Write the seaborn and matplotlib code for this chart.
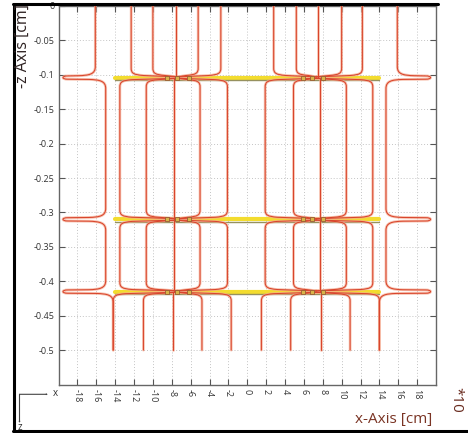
import numpy as np
import matplotlib
matplotlib.use("Agg")
import matplotlib.pyplot as plt
from matplotlib.path import Path
from matplotlib.patches import PathPatch, FancyArrowPatch
from matplotlib.lines import Line2D
import pandas as pd
import seaborn as sns

# ---- data -------------------------------------------------------------
# z position of the three layers [cm*10] and their lateral extent [cm]
layer_z = [-0.104, -0.310, -0.415]
layer_x = [-14.0, 14.0]

# focus of the two cells
cell_centre = [-7.4, 7.3]

# ray x positions (cm) above the first layer, between the layers, below the last
rays_top = [[-12.3, -10.0, -7.6, -5.2, -2.8], [2.8, 5.2, 7.5, 10.0, 12.2]]
rays_mid = [[-13.5, -10.7, -7.8, -5.0, -2.1], [1.9, 4.9, 7.7, 10.5, 13.3]]
rays_low = [[-14.2, -11.0, -7.9, -4.8, -1.7], [1.5, 4.6, 7.8, 10.9, 14.0]]

# stray rays outside the cells: x above / between / below, and turning point
outer_top = [-16.1, 15.9]
outer_mid = [-15.0, 14.7]
outer_low = [-14.2, 14.0]
outer_tip = [-19.7, 19.6]

z_first, z_last = 0.0, -0.5

# crossing nodes on each layer
nodes_x = [-8.55, -7.45, -6.2, 5.9, 6.85, 8.05]

x_ticks = list(range(-18, 19, 2))
y_ticks = [0, -0.05, -0.1, -0.15, -0.2, -0.25, -0.3, -0.35, -0.4, -0.45, -0.5]
y_ticklabels = ["0", "-0.05", "-0.1", "-0.15", "-0.2", "-0.25", "-0.3",
                "-0.35", "-0.4", "-0.45", "-0.5"]

# ---- figure -----------------------------------------------------------
sns.set_style("ticks")
plt.rcParams["font.family"] = ["Open Sans", "DejaVu Sans"]

W, H = 468, 433
fig = plt.figure(figsize=(W / 100, H / 100), dpi=100)
fig.patch.set_facecolor("white")
ax = fig.add_axes([58.5 / W, 1 - 384.5 / H, (436 - 58.5) / W, (384.5 - 6) / H])

RED_CORE = "#d9452c"
RED_HALO = "#f4ab92"


def add_path(verts, codes):
    p = Path(verts, codes)
    ax.add_patch(PathPatch(p, fill=False, ec=RED_HALO, lw=2.0, alpha=0.7,
                           zorder=3, capstyle="round", joinstyle="round"))
    ax.add_patch(PathPatch(p, fill=False, ec=RED_CORE, lw=0.75,
                           zorder=4, capstyle="round", joinstyle="round"))


def leave_plane(x, xc, zb, v, c):
    """ray leaving a layer at its focus and bending down at x"""
    d = np.sign(xc - x)
    v += [(xc, zb - 0.001), (x + d * 1.3, zb - 0.003),
          (x + d * 0.25, zb - 0.0042), (x, zb - 0.006), (x, zb - 0.014)]
    c += [Path.MOVETO, Path.LINETO, Path.CURVE4, Path.CURVE4, Path.CURVE4]


def reach_plane(x, xc, zb, v, c):
    """ray coming down at x and bending into the focus of a layer"""
    d = np.sign(xc - x)
    v += [(x, zb + 0.014), (x, zb + 0.006), (x + d * 0.25, zb + 0.0042),
          (x + d * 1.3, zb + 0.003), (xc, zb + 0.001)]
    c += [Path.LINETO, Path.CURVE4, Path.CURVE4, Path.CURVE4, Path.LINETO]


def ray(x, xc, z_top, z_bot, top_plane, bot_plane):
    v, c = [], []
    straight = abs(x - xc) < 0.9
    if top_plane and not straight:
        leave_plane(x, xc, z_top, v, c)
    else:
        v.append((x, z_top))
        c.append(Path.MOVETO)
    if bot_plane and not straight:
        reach_plane(x, xc, z_bot, v, c)
    else:
        v.append((x, z_bot))
        c.append(Path.LINETO)
    add_path(v, c)


# rays inside the two cells
for k, xc in enumerate(cell_centre):
    for x in rays_top[k]:
        ray(x, xc, z_first, layer_z[0], False, True)
    for x in rays_mid[k]:
        ray(x, xc, layer_z[0], layer_z[1], True, True)
        ray(x, xc, layer_z[1], layer_z[2], True, True)
    for x in rays_low[k]:
        ray(x, xc, layer_z[2], z_last, True, False)


def spike(xu, xd, tip, zb, v, c):
    d = np.sign(tip - xu)
    v += [(xu, zb + 0.016), (xu, zb + 0.005), (xu + d * 0.6, zb + 0.0032),
          (xu + d * 1.8, zb + 0.0027), (tip - d * 0.7, zb + 0.0024),
          (tip, zb + 0.0024), (tip, zb - 0.0024), (tip - d * 0.7, zb - 0.0024),
          (xd + d * 1.8, zb - 0.0027), (xd + d * 0.6, zb - 0.0032),
          (xd, zb - 0.005), (xd, zb - 0.016)]
    c += [Path.LINETO, Path.CURVE4, Path.CURVE4, Path.CURVE4, Path.LINETO,
          Path.CURVE4, Path.CURVE4, Path.CURVE4, Path.LINETO,
          Path.CURVE4, Path.CURVE4, Path.CURVE4]


# stray rays turning back at each layer
for k in range(2):
    v, c = [(outer_top[k], z_first)], [Path.MOVETO]
    spike(outer_top[k], outer_mid[k], outer_tip[k], layer_z[0], v, c)
    spike(outer_mid[k], outer_mid[k], outer_tip[k], layer_z[1], v, c)
    spike(outer_mid[k], outer_low[k], outer_tip[k], layer_z[2], v, c)
    v.append((outer_low[k], z_last))
    c.append(Path.LINETO)
    add_path(v, c)

# layers
layers = pd.DataFrame({
    "x": [layer_x[0], layer_x[1]] * len(layer_z),
    "z": [z for z in layer_z for _ in range(2)],
    "layer": [i for i in range(len(layer_z)) for _ in range(2)],
})
sns.lineplot(data=layers, x="x", y="z", units="layer", estimator=None,
             color="#f3dc2e", lw=3.0, ax=ax, zorder=2, legend=False)
under = layers.assign(z=layers["z"] - 0.0036)
sns.lineplot(data=under, x="x", y="z", units="layer", estimator=None,
             color="#96915f", lw=1.0, ax=ax, zorder=2, legend=False)

nodes = pd.DataFrame({"x": nodes_x * len(layer_z),
                      "z": [z for z in layer_z for _ in nodes_x]})
sns.scatterplot(data=nodes, x="x", y="z", marker="s", s=11, color="#d8b448",
                edgecolor="#9a5e34", linewidth=0.6, ax=ax, zorder=5)

# axes
ax.set_xlim(-20, 20)
ax.set_ylim(-0.55, 0)
ax.set_xticks(x_ticks)
ax.set_xticklabels([str(t) for t in x_ticks], rotation=-90)
ax.set_yticks(y_ticks)
ax.set_yticklabels(y_ticklabels)
ax.set_xlabel("")
ax.set_ylabel("")
ax.grid(True, ls=(0, (1, 2)), color="#c4c4c4", lw=0.7)
ax.set_axisbelow(True)
ax.tick_params(direction="in", top=True, right=True, length=4, width=0.8,
               color="#555555", labelsize=6.5, labelcolor="#333333", pad=3)
for s in ax.spines.values():
    s.set_color("#666666")
    s.set_linewidth(1.0)


def fx(px):
    return px / W


def fy(py):
    return 1 - py / H


fig.text(fx(23), fy(46), "-z Axis [cm]", rotation=90, ha="center",
         va="center", fontsize=11.5, color="#2e2222")
fig.text(fx(394), fy(419), "x-Axis [cm]", ha="center", va="center",
         fontsize=11, color="#7a3424")
fig.text(fx(456), fy(400), "*10", rotation=-90, ha="center", va="center",
         fontsize=11, color="#6a2c20")

# coordinate icon
arrow = dict(arrowstyle="->", color="#444444", lw=0.8, shrinkA=0, shrinkB=0)
fig.add_artist(FancyArrowPatch((fx(19.5), fy(394.3)), (fx(48), fy(394.3)),
                               transform=fig.transFigure, **arrow))
fig.add_artist(FancyArrowPatch((fx(19.5), fy(394.3)), (fx(19.5), fy(423)),
                               transform=fig.transFigure, **arrow))
fig.text(fx(55), fy(394), "x", ha="center", va="center", fontsize=7,
         color="#333333")
fig.text(fx(20), fy(428), "z", ha="center", va="center", fontsize=7,
         color="#333333")

# frame
for (x0, y0, x1, y1) in [(13, 4, 438, 4), (13.5, 4, 13.5, 431),
                         (13, 431, 468, 431)]:
    fig.add_artist(Line2D([fx(x0), fx(x1)], [fy(y0), fy(y1)], color="black",
                          lw=2.2, transform=fig.transFigure))

fig.savefig("out.png", dpi=100)
